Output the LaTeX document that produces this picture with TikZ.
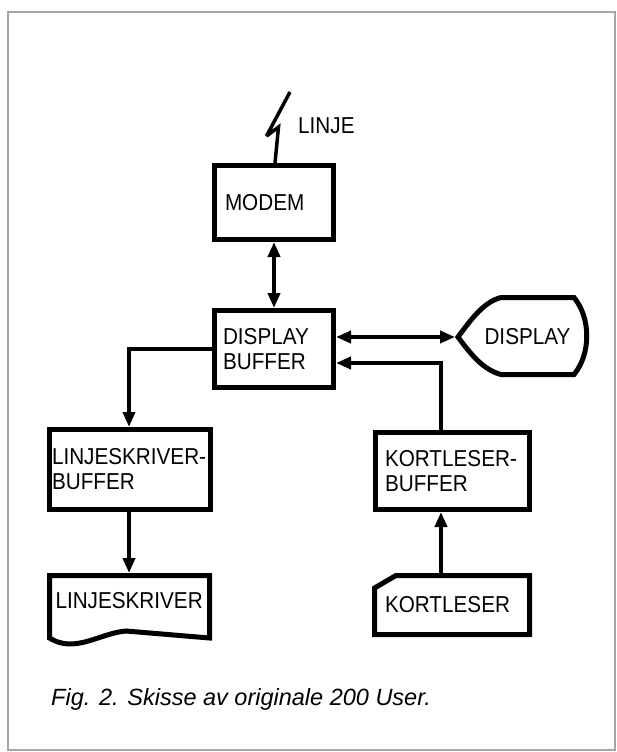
\documentclass[tikz,border=0pt]{standalone}
\usepackage{fontspec}
\newfontfamily\df[FakeStretch=0.9]{Liberation Sans}
\newfontfamily\cf{Liberation Sans}
\usetikzlibrary{arrows.meta}
\begin{document}
\begin{tikzpicture}[x=1pt,y=-1pt,
  box/.style={draw, line width=5pt, align=left, inner ysep=0pt, font=\df\fontsize{23}{25}\selectfont},
  shapebox/.style={inner sep=0pt, outer sep=0pt, font=\df\fontsize{23}{25}\selectfont},
  outline/.style={line width=5pt, line join=miter},
  conn/.style={line width=4pt},
  tip/.style={-{Triangle[length=15pt,width=12pt]}},
  dtip/.style={{Triangle[length=15pt,width=12pt]}-{Triangle[length=15pt,width=12pt]}},
  frame/.style={draw=black!35, line width=1.8pt}]
\useasboundingbox (0,0) rectangle (617,752);
\draw[frame] (8,12) rectangle (615,750);

% boxes
\node[box, minimum width=119pt, minimum height=74pt, text width=98pt, inner xsep=10.5pt] (modem) at (274,202.5) {MODEM};
\node[box, minimum width=119pt, minimum height=77pt, text width=102pt, inner xsep=8.5pt] (dbuf) at (274,349) {DISPLAY\\BUFFER};
\node[box, minimum width=161pt, minimum height=80pt, text width=156pt, inner xsep=2.5pt] (lbuf) at (130,469.5) {\mbox{LINJESKRIVER-}\\BUFFER};
\node[box, minimum width=154pt, minimum height=77pt, text width=135pt, inner xsep=9.5pt] (kbuf) at (452.5,471) {\mbox{KORTLESER-}\\BUFFER};

% special shapes (text nodes + outlines)
\node[shapebox, minimum width=132pt, minimum height=82pt] (disp) at (521,337) {\hspace*{13pt}DISPLAY};
\draw[outline] (458,337) .. controls (472,318) and (484,302) .. (501,297.5) -- (574,297.5)
  .. controls (591,318) and (591,354) .. (574,374.5) -- (501,374.5)
  .. controls (484,370) and (472,356) .. cycle;

\node[shapebox, minimum width=160pt, minimum height=64pt, text width=134pt, inner xsep=13pt, align=left] (kl) at (452,605) {KORTLESER};
\draw[outline] (374.5,588) -- (396,575.5) -- (529.5,575.5) -- (529.5,634.5) -- (374.5,634.5) -- cycle;

\node[shapebox, minimum width=165pt, minimum height=56pt, text width=148pt, inner xsep=8.5pt, align=left] (lk) at (129.5,601) {LINJESKRIVER};
\draw[outline] (49.5,575.5) -- (209.5,575.5) -- (209.5,638) -- (126,631)
  .. controls (100,633) and (75,654) .. (49.5,638) -- cycle;

% lightning and label
\coordinate (bolt) at (290,92);
\draw[line width=3.5pt, line join=miter, miter limit=4] ([xshift=1pt]modem.north) -- (278.5,127) -- (266.5,136) -- (bolt);
\node[font=\df\fontsize{23}{25}\selectfont, anchor=base west, inner sep=0pt] (linje) at (298,133) {LINJE};

% connectors
\draw[conn, dtip] (modem.south) -- (dbuf.north);
\draw[conn, dtip] ([yshift=12pt]dbuf.east) -- (disp.west);
\draw[conn, tip] ([xshift=-11.5pt]kbuf.north) |- ([yshift=-14pt]dbuf.east);
\draw[conn, tip] ([xshift=-11pt]kl.north) -- ([xshift=-11.5pt]kbuf.south);
\draw[conn, tip] (dbuf.west) -| ([xshift=-1pt]lbuf.north);
\draw[conn, tip] ([xshift=-1pt]lbuf.south) -- ([xshift=-0.5pt]lk.north);

% caption
\node[font=\cf\itshape\fontsize{23.5}{26}\selectfont, anchor=base west, inner sep=0pt] (cap) at (51,705) {Fig. 2. Skisse av originale 200 User.};
\end{tikzpicture}
\end{document}
